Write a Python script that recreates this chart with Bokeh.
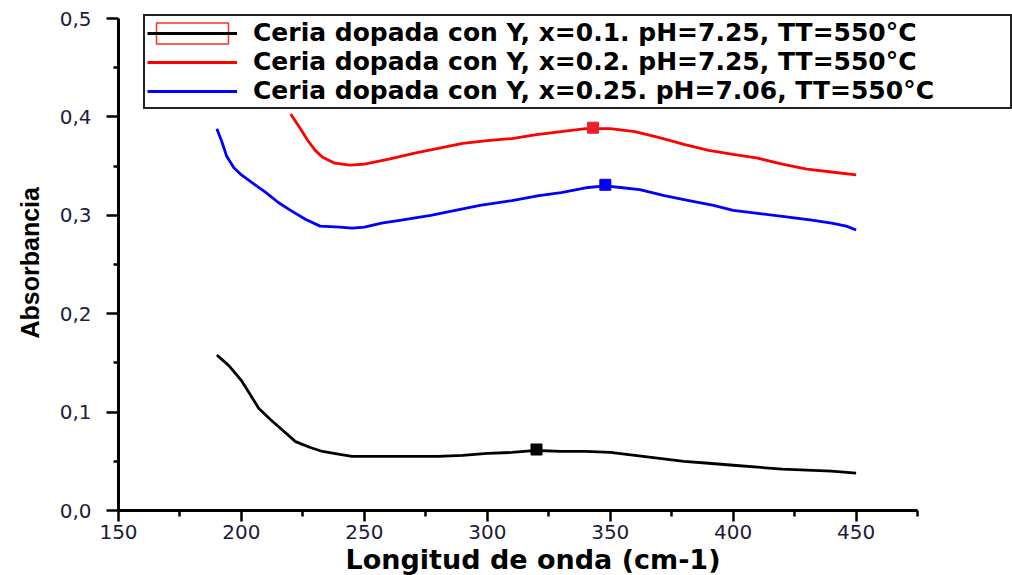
from bokeh.plotting import figure
from bokeh.models import (FixedTicker, CustomJSTickFormatter, Legend, LegendItem,
                          Range1d, Title)
from bokeh.embed import file_html
from bokeh.resources import INLINE
import numpy as np

# Absorbance spectra of Y-doped ceria samples
wl_x010 = [190, 195, 200, 207, 212, 217, 222, 228, 233, 240, 245, 250, 260, 270, 280,
           290, 300, 310, 320, 330, 340, 350, 360, 370, 380, 390, 400, 410, 420, 430, 440, 450]
abs_x010 = [0.158, 0.147, 0.132, 0.104, 0.092, 0.081, 0.070, 0.064, 0.060, 0.057, 0.055,
            0.055, 0.055, 0.055, 0.055, 0.056, 0.058, 0.059, 0.061, 0.060, 0.060, 0.059,
            0.056, 0.053, 0.050, 0.048, 0.046, 0.044, 0.042, 0.041, 0.040, 0.038]

wl_x020 = [220, 224, 227, 230, 233, 238, 244, 250, 260, 270, 280, 290, 300, 310, 320,
           330, 340, 350, 360, 370, 380, 390, 400, 410, 420, 430, 440, 450]
abs_x020 = [0.403, 0.388, 0.376, 0.366, 0.359, 0.353, 0.351, 0.352, 0.357, 0.363, 0.368,
            0.373, 0.376, 0.378, 0.382, 0.385, 0.388, 0.388, 0.385, 0.379, 0.372, 0.366,
            0.362, 0.358, 0.352, 0.347, 0.344, 0.341]

wl_x025 = [190, 192, 194, 197, 200, 205, 210, 215, 220, 226, 232, 240, 245, 250, 257,
           265, 277, 287, 297, 310, 321, 330, 340, 348, 355, 362, 372, 382, 392, 400,
           410, 420, 432, 440, 446, 450]
abs_x025 = [0.388, 0.375, 0.360, 0.348, 0.341, 0.332, 0.323, 0.313, 0.305, 0.296, 0.289,
            0.288, 0.287, 0.288, 0.292, 0.295, 0.300, 0.305, 0.310, 0.315, 0.320, 0.323,
            0.328, 0.330, 0.328, 0.326, 0.320, 0.315, 0.310, 0.305, 0.302, 0.299, 0.295,
            0.292, 0.289, 0.285]

# band maxima marked with squares
peak_wl = [320, 343, 348]
peak_abs = [0.062, 0.389, 0.331]
peak_colors = ["black", "#e8202a", "blue"]

labels = [
    "Ceria dopada con Y, x=0.1. pH=7.25, TT=550°C",
    "Ceria dopada con Y, x=0.2. pH=7.25, TT=550°C",
    "Ceria dopada con Y, x=0.25. pH=7.06, TT=550°C",
]

x_major = [150, 200, 250, 300, 350, 400, 450]
x_minor = [175, 225, 275, 325, 375, 425, 475]
y_major = [0.0, 0.1, 0.2, 0.3, 0.4, 0.5]
y_minor = [0.05, 0.15, 0.25, 0.35, 0.45]
x_axis_span = (150, 475)
y_axis_span = (0.0, 0.5)

# the frame reaches past the axis spans so the legend box is not clipped
p = figure(width=1012, height=575, output_backend="svg", toolbar_location=None,
           x_range=Range1d(150, 513.6), y_range=Range1d(0, 0.5183),
           min_border_left=118, min_border_right=0, min_border_top=0, min_border_bottom=65)
p.outline_line_color = None
p.xgrid.visible = False
p.ygrid.visible = False

tick_color = "#1c1c3c"
for ax in (p.xaxis[0], p.yaxis[0]):
    ax.axis_line_width = 3
    ax.major_tick_line_width = 2.5
    ax.minor_tick_line_width = 2.5
    ax.major_label_text_font = "DejaVu Sans"
    ax.major_label_text_font_size = "20px"
    ax.major_label_text_color = tick_color

p.xaxis.bounds = x_axis_span
p.xaxis.ticker = FixedTicker(ticks=x_major, minor_ticks=x_minor)
p.xaxis.major_tick_out = 11
p.xaxis.major_tick_in = 0
p.xaxis.minor_tick_out = 6
p.xaxis.minor_tick_in = 0
p.xaxis.major_label_standoff = 3

p.yaxis.bounds = y_axis_span
p.yaxis.ticker = FixedTicker(ticks=y_major, minor_ticks=y_minor)
p.yaxis.formatter = CustomJSTickFormatter(code="return tick.toFixed(1).replace('.', ',');")
p.yaxis.major_tick_out = 12
p.yaxis.major_tick_in = 0
p.yaxis.minor_tick_out = 5
p.yaxis.minor_tick_in = 0
p.yaxis.major_label_standoff = 15

# axis titles
xlab = Title(text="Longitud de onda (cm-1)", align="left", offset=227, standoff=0,
             text_font="DejaVu Sans", text_font_size="27px", text_font_style="bold",
             text_color="black")
p.add_layout(xlab, "below")
ylab = Title(text="Absorbancia", align="left", offset=172, standoff=25,
             text_font="Liberation Sans", text_font_size="25px", text_font_style="bold",
             text_color="black")
p.add_layout(ylab, "left")

lw = 2.8
r_sel = p.rect(x=[np.nan], y=[np.nan], width=1, height=1, fill_alpha=0,
               line_color="#ff2a2a", line_width=1.5)
r_black = p.line(wl_x010, abs_x010, line_color="black", line_width=lw)
r_red = p.line(wl_x020, abs_x020, line_color="#ff0000", line_width=lw)
r_blue = p.line(wl_x025, abs_x025, line_color="#0000ff", line_width=lw)
p.scatter(peak_wl, peak_abs, marker="square", size=11, color=peak_colors)

legend = Legend(items=[
    LegendItem(label=labels[0], renderers=[r_sel, r_black]),
    LegendItem(label=labels[1], renderers=[r_red]),
    LegendItem(label=labels[2], renderers=[r_blue]),
], location=(25, 401))
legend.label_text_font = "DejaVu Sans"
legend.label_text_font_style = "bold"
legend.label_text_font_size = "25px"
legend.label_text_color = "black"
legend.glyph_width = 90
legend.glyph_height = 26
legend.spacing = 0
legend.padding = 2
legend.margin = 0
legend.label_standoff = 16
legend.label_height = 20
legend.label_width = 755
legend.border_line_color = "#222222"
legend.border_line_alpha = 1.0
legend.border_line_width = 2
legend.background_fill_color = "white"
legend.background_fill_alpha = 1
p.add_layout(legend, "center")

open("out.html", "w").write(file_html(p, INLINE))
